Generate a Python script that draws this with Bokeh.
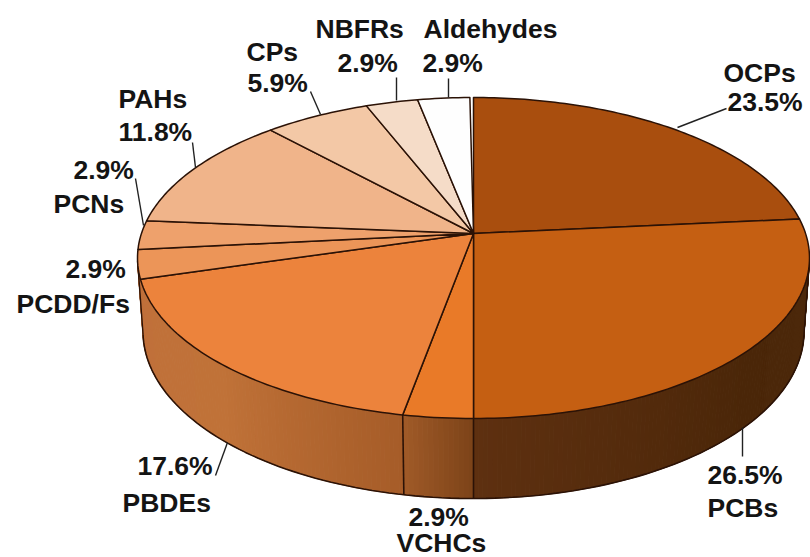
import numpy as np
from bokeh.plotting import figure
from bokeh.models import ColumnDataSource
from bokeh.embed import file_html
from bokeh.resources import INLINE
from bokeh.core.properties import value

categories = ["OCPs", "PCBs", "VCHCs", "PBDEs", "PCDD/Fs", "PCNs", "PAHs", "CPs", "NBFRs", "Aldehydes"]
shares = [23.5, 26.5, 2.9, 17.6, 2.9, 2.9, 11.8, 5.9, 2.9, 2.9]
top_colors = ["#a94e0e", "#c55f12", "#e97a28", "#ec833c", "#ec9558", "#eea16c",
              "#f0b48a", "#f3c8a6", "#f5dcc8", "#fefefe"]
side_shades = {
    "PCBs": ["#4e2a0c", "#4a2608", "#5e3010"],
    "VCHCs": ["#a05a28", "#7c4318"],
    "PBDEs": ["#c0703a", "#c07238", "#a65c28"],
    "PCDD/Fs": ["#c0703a", "#c0703a"],
}

label_texts = ["OCPs", "23.5%", "PAHs", "11.8%", "2.9%", "PCNs", "2.9%", "PCDD/Fs", "CPs", "5.9%",
               "NBFRs", "2.9%", "Aldehydes", "2.9%", "17.6%", "PBDEs", "2.9%", "VCHCs", "26.5%", "PCBs"]
label_x = [723, 727, 118, 118, 73, 53, 65, 16, 246, 247, 315, 337, 423, 422, 137, 122, 408, 396, 707, 707]
label_y = [81, 110, 107, 140, 178, 212, 277, 312, 60, 91, 37, 71, 37, 71, 474, 511, 525, 551, 483, 516]

leader_x = [[677, 726], [192, 195], [135, 143], [310, 320], [396, 396], [448, 448], [215, 227], [742, 742]]
leader_y = [[127, 108], [142, 167], [178, 225], [91, 114], [77, 100], [78, 97], [475, 442], [427, 456]]

CX, CY = 473.0, 233.0          # pie centre on the picture
TOP_Y, BOTTOM_Y = 97.0, 418.0  # far and near rim
RIM_HALF_W = 336.0
BX, BY, BA, BB = 473.0, 331.0, 330.5, 167.0  # lower rim ellipse
EY = (TOP_Y + BOTTOM_Y) / 2
EB = (BOTTOM_Y - TOP_Y) / 2

persp = (BOTTOM_Y + TOP_Y - 2 * CY) / (BOTTOM_Y - TOP_Y)
slope = TOP_Y * persp + TOP_Y - CY
flat_r = RIM_HALF_W * np.sqrt(1 - persp ** 2)


def rim(theta):
    """theta in radians, clockwise from 12 o'clock."""
    u, v = np.sin(theta), np.cos(theta)
    w = persp * v + 1
    return CX + flat_r * u / w, (slope * v + CY) / w


def lower(x_top, y_top):
    """Point of the lower rim under a point of the upper rim."""
    phi = np.arctan2((x_top - CX) / RIM_HALF_W, (y_top - EY) / EB)
    return BX + BA * np.sin(phi), BY + BB * np.cos(phi)


edges = np.radians(np.cumsum([0] + shares) * 3.6)

p = figure(width=810, height=557, x_range=(0, 810), y_range=(557, 0),
           output_backend="svg", toolbar_location=None, min_border=0,
           background_fill_color="white", border_fill_color="white")
p.axis.visible = False
p.grid.visible = False
p.outline_line_color = None

DARK = "#2b1206"

# side wall, as fine strips so that it can shade along its length
for i, name in enumerate(categories):
    if name not in side_shades:
        continue
    a, b = edges[i], edges[i + 1]
    n = max(3, int((b - a) / np.radians(0.7)))
    ts = np.linspace(a, b, n + 1)
    stops = np.array([[int(c[j:j + 2], 16) for j in (1, 3, 5)] for c in side_shades[name]], float)
    xs, ys, fills = [], [], []
    for k in range(n):
        t0, t1 = ts[k], ts[k + 1]
        tm = (t0 + t1) / 2
        x0, y0 = rim(t0)
        x1, y1 = rim(t1)
        if y0 < EY and y1 < EY:
            continue
        lx0, ly0 = lower(x0, y0)
        lx1, ly1 = lower(x1, y1)
        xs.append([x0, x1, lx1, lx0])
        ys.append([y0, y1, ly1, ly0])
        f = (tm - a) / (b - a)
        if name == "PBDEs" or name == "VCHCs":
            f = 1 - f
        pos = f * (len(stops) - 1)
        j = min(int(pos), len(stops) - 2)
        c = stops[j] + (stops[j + 1] - stops[j]) * (pos - j)
        fills.append("#%02x%02x%02x" % tuple(int(round(q)) for q in c))
    p.patches(xs, ys, fill_color=fills, line_color=fills, line_width=1)

# outline of the wall
ts = np.linspace(edges[1] - np.radians(84), edges[5], 200)
tops = [rim(t) for t in ts if rim(t)[1] >= EY]
lows = [lower(*q) for q in tops]
p.line([q[0] for q in lows], [q[1] for q in lows], line_color=DARK, line_width=1.6)
p.line([tops[0][0], lows[0][0]], [tops[0][1], lows[0][1]], line_color=DARK, line_width=1.4)
p.line([tops[-1][0], lows[-1][0]], [tops[-1][1], lows[-1][1]], line_color=DARK, line_width=1.4)

# wall seams
for t in (edges[2], edges[3]):
    x0, y0 = rim(t)
    x1, y1 = lower(x0, y0)
    p.line([x0, x1], [y0, y1], line_color=DARK, line_width=1.6)

# top face
face_x, face_y = [], []
for i in range(len(categories)):
    ts = np.linspace(edges[i], edges[i + 1], max(4, int(np.degrees(edges[i + 1] - edges[i]))))
    xr, yr = rim(ts)
    face_x.append([CX] + list(xr))
    face_y.append([CY] + list(yr))
p.patches("x", "y", source=ColumnDataSource(dict(x=face_x, y=face_y, c=top_colors, n=categories)),
          fill_color="c", line_color=DARK, line_width=1.5, line_join="round")

# leaders
p.multi_line(leader_x, leader_y, line_color="#222222", line_width=1.4)

# labels
p.text(label_x, label_y, text=label_texts, text_font=value("Liberation Sans"),
       text_font_style="bold", text_font_size="26.5px", text_color="#141414",
       text_align="left", text_baseline="middle", y_offset=-9)

open("out.html", "w").write(file_html(p, INLINE))
